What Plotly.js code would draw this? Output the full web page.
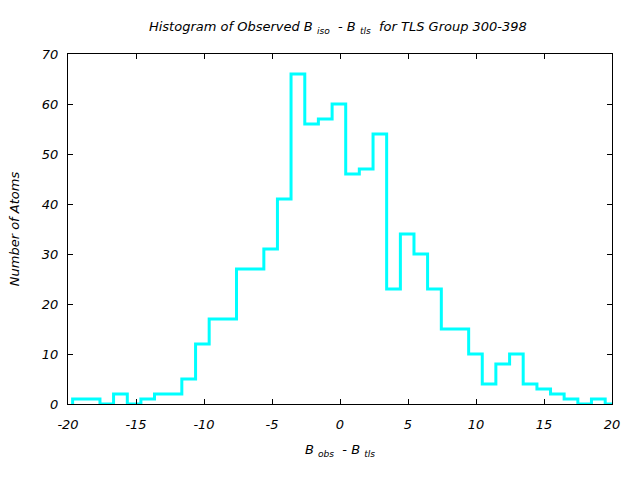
<!DOCTYPE html>
<html>
<head>
<meta charset="utf-8">
<script src="https://cdn.plot.ly/plotly-3.0.1.min.js"></script>
<style>html,body{margin:0;padding:0;background:#fff;}#chart{width:640px;height:480px;}</style>
</head>
<body>
<div id="chart"></div>
<script>
// Bin edges (left edge of each bin, plus the final right edge)
const binEdges = [-19.66, -18.66, -17.65, -16.65, -15.64, -14.64, -13.64, -12.63, -11.63, -10.62,
  -9.62, -8.62, -7.61, -6.61, -5.60, -4.60, -3.60, -2.59, -1.59, -0.58,
  0.42, 1.42, 2.43, 3.43, 4.44, 5.44, 6.44, 7.45, 8.45, 9.46,
  10.46, 11.46, 12.47, 13.47, 14.48, 15.48, 16.48, 17.49, 18.49, 19.50, 20.50];
// Number of atoms in each bin
const counts = [1, 1, 0, 2, 0, 1, 2, 2, 5, 12,
  17, 17, 27, 27, 31, 41, 66, 56, 57, 60,
  46, 47, 54, 23, 34, 30, 23, 15, 15, 10,
  4, 8, 10, 4, 3, 2, 1, 0, 1, 0];
const xTickVals = [-20, -15, -10, -5, 0, 5, 10, 15, 20];
const xTickText = ['-20', '-15', '-10', '-5', '0', '5', '10', '15', '20'];
const yTickVals = [0, 10, 20, 30, 40, 50, 60, 70];
const yTickText = ['0', '10', '20', '30', '40', '50', '60', '70'];

// step path: start at zero, hold each count across its bin
const xs = [binEdges[0]];
const ys = [0];
for (let i = 0; i < counts.length; i++) { xs.push(binEdges[i]); ys.push(counts[i]); }
xs.push(binEdges[binEdges.length - 1]); ys.push(counts[counts.length - 1]);

const tf = {family: 'DejaVu Sans', size: 13, color: '#000', style: 'italic'};
const trace = {
  x: xs, y: ys, type: 'scatter', mode: 'lines',
  line: {shape: 'hv', color: '#00ffff', width: 3},
  hoverinfo: 'skip'
};
const axisCommon = {
  showgrid: false, zeroline: false, showline: true, linecolor: '#000', linewidth: 1,
  mirror: 'allticks', ticks: 'inside', ticklen: 5, tickwidth: 1, tickcolor: '#000',
  tickfont: tf
};
const layout = {
  width: 640, height: 480,
  margin: {l: 68, r: 28, t: 54, b: 76},
  paper_bgcolor: '#fff', plot_bgcolor: '#fff',
  showlegend: false,
  font: tf,
  title: {text: 'Histogram of Observed B <sub>iso</sub>  - B <sub>tls</sub>  for TLS Group 300-398',
    font: tf, x: 0.528, xanchor: 'center', y: 0.944, yanchor: 'middle'},
  xaxis: Object.assign({}, axisCommon, {
    range: [-20, 20], tickvals: xTickVals, ticktext: xTickText, ticklabelstandoff: 8,
    title: {text: 'B <sub>obs</sub>  - B <sub>tls</sub>', standoff: 14, font: tf}
  }),
  yaxis: Object.assign({}, axisCommon, {
    range: [0, 70], tickvals: yTickVals, ticktext: yTickText, ticklabelstandoff: 6,
    title: {text: 'Number of Atoms', standoff: 19, font: tf}
  })
};
Plotly.newPlot('chart', [trace], layout, {staticPlot: true, displayModeBar: false});
</script>
</body>
</html>
